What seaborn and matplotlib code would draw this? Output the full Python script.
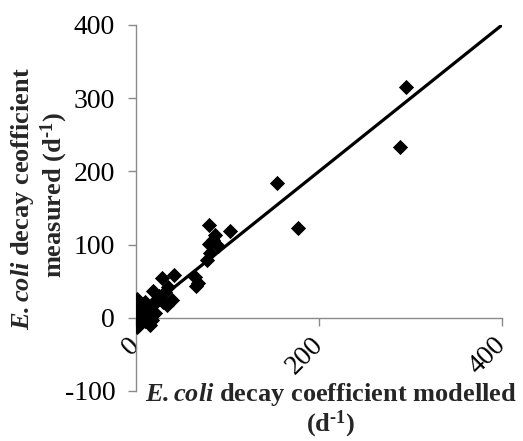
import matplotlib
matplotlib.use("Agg")
import matplotlib.pyplot as plt
import seaborn as sns
import pandas as pd

# Data
x_modelled = [295, 288, 154, 177, 80, 103, 86, 80, 84, 90, 81, 78, 66, 64, 68,
              42, 28, 35, 32, 23, 39, 34, 1, 10, 17, 0, 1, 6, 17, 15, 3, 1,
              21, 12, 8, 25, 5, 14, 19, 3, 10, 19, 30]
y_measured = [315, 233, 184, 122, 127, 118, 113, 101, 106, 98, 88, 79, 43, 56, 47,
              58, 54, 42, 35, 26, 24, 17, 26, 22, 8, 12, -1, 3, -3, -10, -10, -13,
              6, 12, 15, 30, 5, 0, 18, 20, -5, 37, 22]
line_x = [0, 400]
line_y = [0, 400]
x_ticks = [0, 200, 400]
y_ticks = [-100, 0, 100, 200, 300, 400]

sns.set_theme(style="white")
plt.rcParams['font.family'] = ['Liberation Serif', 'DejaVu Serif']
plt.rcParams['axes.unicode_minus'] = False
plt.rcParams['mathtext.fontset'] = 'custom'
plt.rcParams['mathtext.rm'] = 'Liberation Serif'
plt.rcParams['mathtext.it'] = 'Liberation Serif:italic'
plt.rcParams['mathtext.bf'] = 'Liberation Serif:bold'
plt.rcParams['mathtext.bfit'] = 'Liberation Serif:bold:italic'

fig = plt.figure(figsize=(5.23, 4.41), dpi=100)
ax = fig.add_axes([136/523, 1-391/441, (502-136)/523, (391-25)/441])

df = pd.DataFrame({"x": x_modelled, "y": y_measured})
sns.lineplot(x=line_x, y=line_y, ax=ax, color='black', linewidth=2.3, zorder=2)
sns.scatterplot(data=df, x="x", y="y", ax=ax, marker='D', s=60,
                color='black', edgecolor='black', linewidth=0, zorder=3)

ax.set_xlim(0, 400)
ax.set_ylim(-100, 400)
ax.set_xticks(x_ticks)
ax.set_yticks(y_ticks)
ax.set_xlabel("")
ax.set_ylabel("")

for s in ['top', 'right']:
    ax.spines[s].set_visible(False)
ax.spines['bottom'].set_position(('data', 0))
for s in ['left', 'bottom']:
    ax.spines[s].set_color('#8a8a8a')
    ax.spines[s].set_linewidth(1.0)

ax.tick_params(axis='both', which='major', direction='out', length=6, width=1.0,
               color='#8a8a8a', labelsize=20, labelcolor='black')
ax.tick_params(axis='y', pad=9, left=True)
ax.tick_params(axis='x', pad=11, bottom=True)
for lab in ax.get_xticklabels():
    lab.set_rotation(45)
    lab.set_ha('right')
    lab.set_va('center')
    lab.set_rotation_mode('anchor')

sup = '$^{\\mathbf{\u20101}}$'
ecoli = r'$\mathbfit{E.coli}$'
fig.text(331/523, 1-395/441,
         ecoli + ' decay coefficient modelled',
         ha='center', va='center', fontsize=19, fontweight='bold')
fig.text(331/523, 1-424/441, '(d' + sup + ')',
         ha='center', va='center', fontsize=19, fontweight='bold')
fig.text(23/523, 1-199/441,
         ecoli + ' decay ceofficient',
         ha='center', va='center', rotation=90, fontsize=19, fontweight='bold')
fig.text(54/523, 1-195/441, 'measured (d' + sup + ')',
         ha='center', va='center', rotation=90, fontsize=19, fontweight='bold')

fig.savefig("out.png", dpi=100)
